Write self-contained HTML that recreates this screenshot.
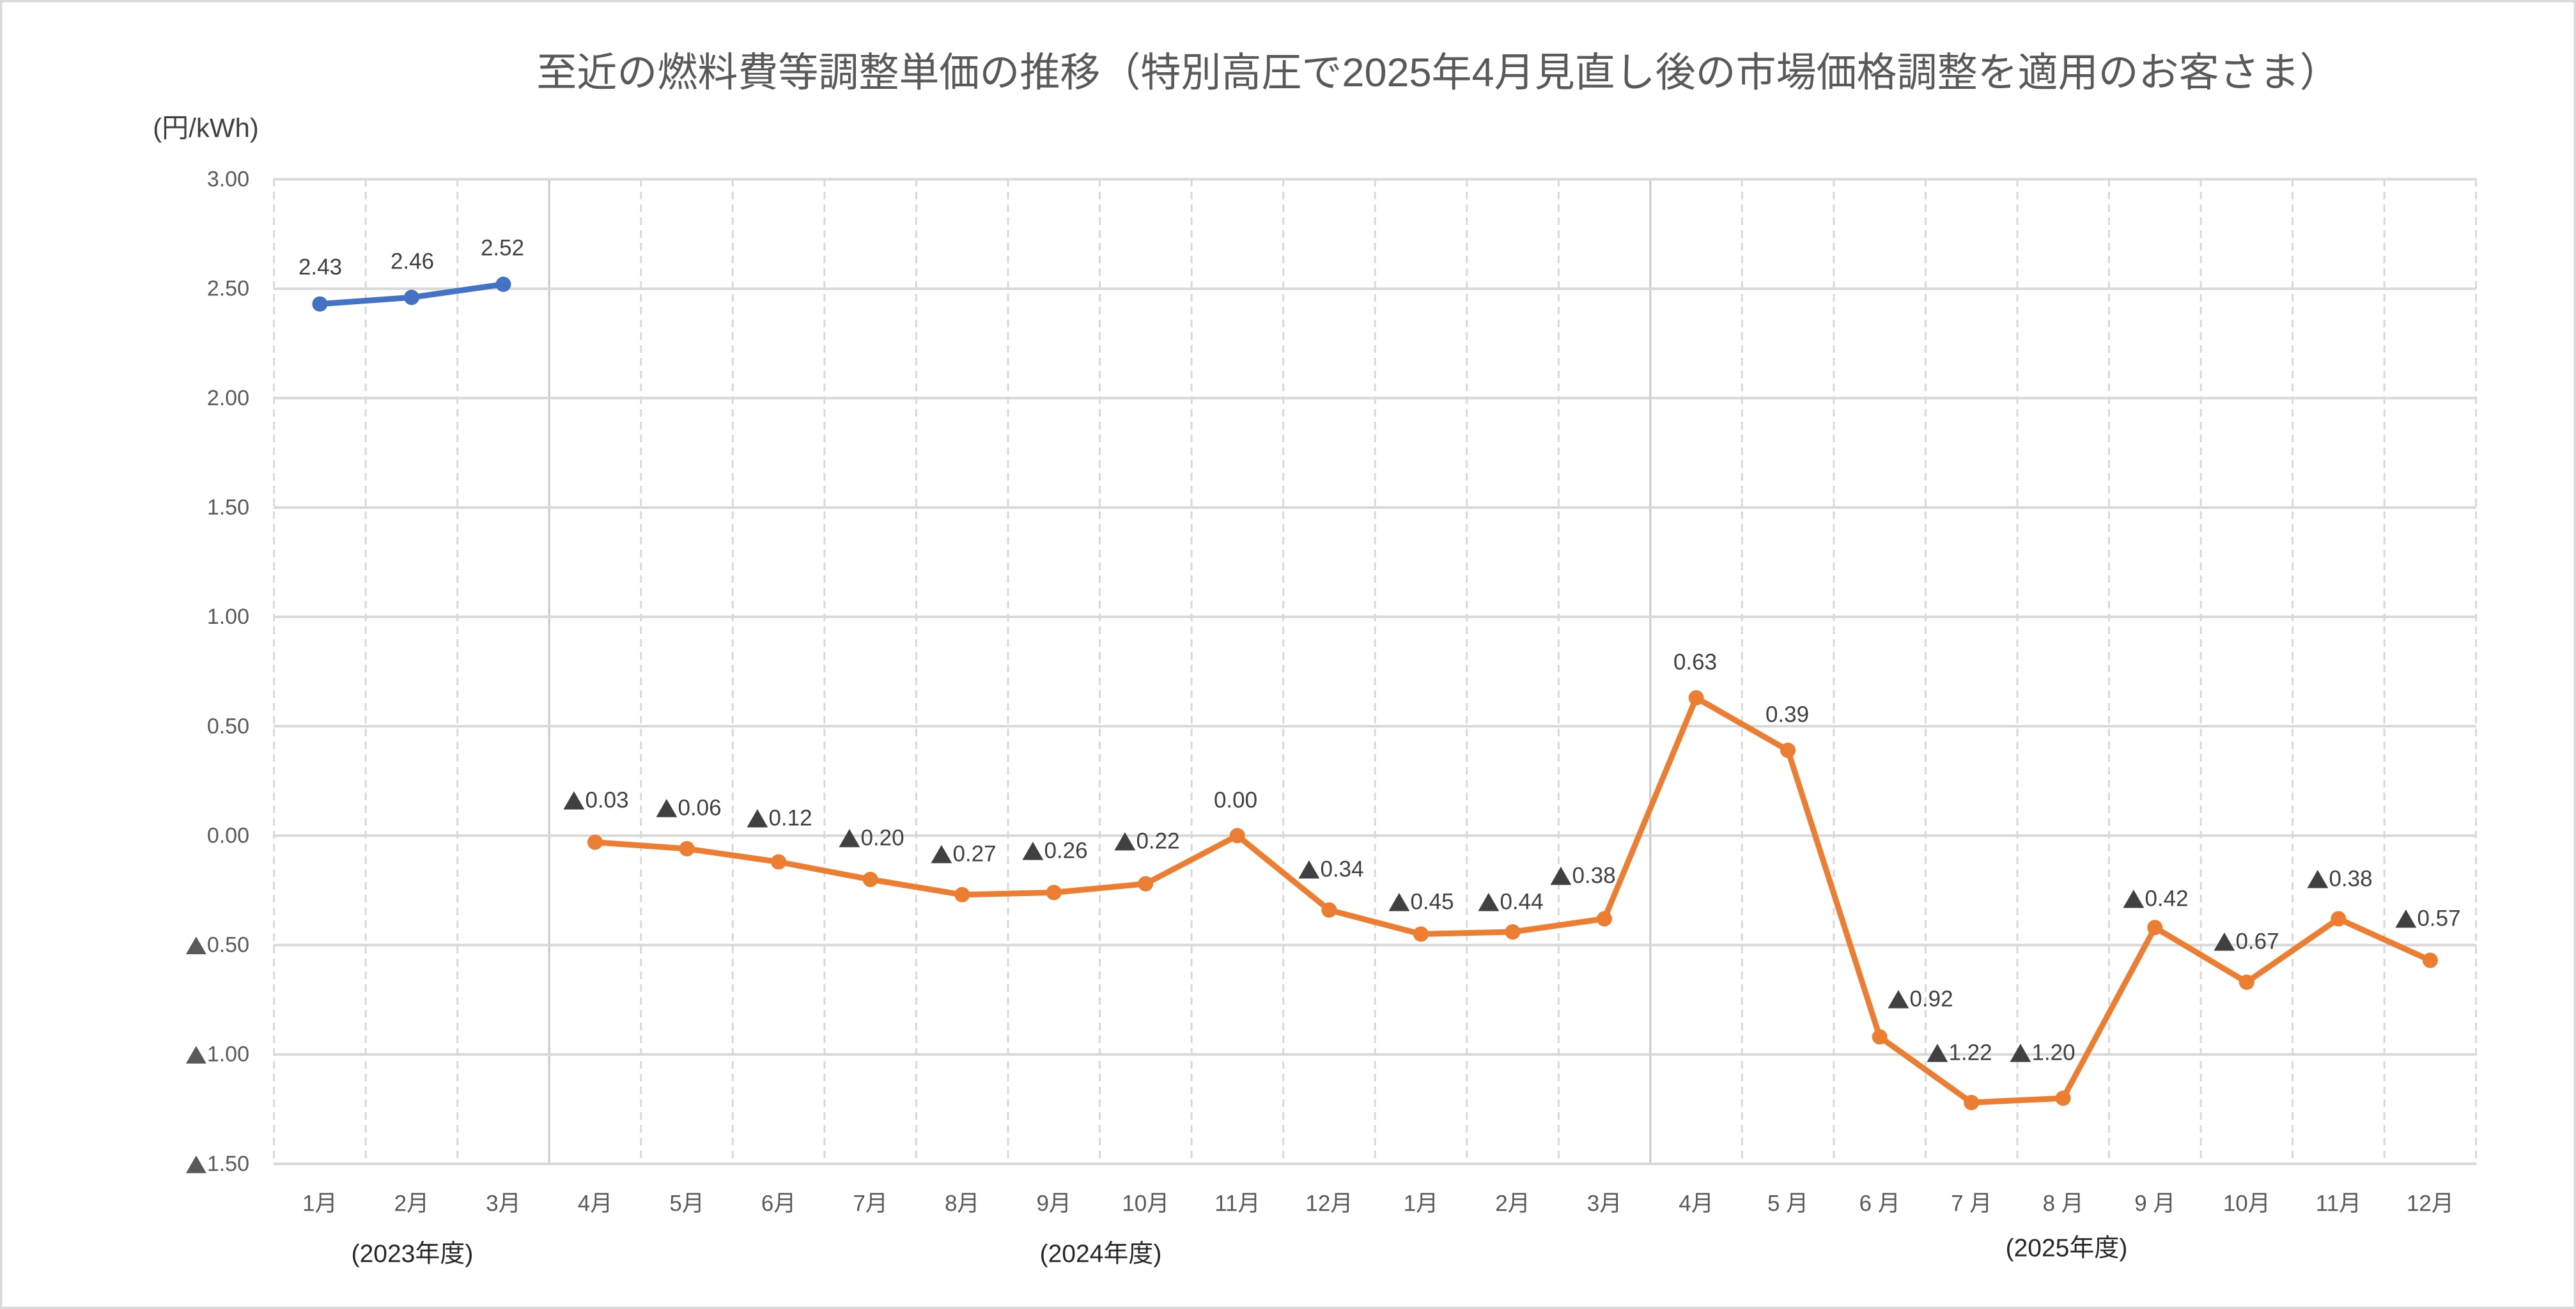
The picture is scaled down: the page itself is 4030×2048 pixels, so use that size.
<!DOCTYPE html>
<html><head><meta charset="utf-8"><style>
html,body{margin:0;padding:0;background:#fff}
svg{display:block}
text{font-family:"Liberation Sans","Noto Sans CJK JP",sans-serif}
.t{font-family:"Noto Sans CJK JP",sans-serif}
</style></head><body>
<svg width="4030" height="2048" viewBox="0 0 4030 2048" xmlns="http://www.w3.org/2000/svg">
<rect x="1.5" y="1.5" width="4027" height="2045" fill="#fff" stroke="#d9d9d9" stroke-width="4"/>
<text x="2250" y="135" font-size="63" fill="#595959" text-anchor="middle">至近の燃料費等調整単価の推移（特別高圧で2025年4月見直し後の市場価格調整を適用のお客さま）</text>
<text x="322" y="200" font-size="42" fill="#404040" text-anchor="middle" dominant-baseline="central">(円/kWh)</text>
<g stroke="#d9d9d9" stroke-width="3" stroke-dasharray="12,8">
<line x1="428.6" y1="280" x2="428.6" y2="1821"/>
<line x1="572.1" y1="280" x2="572.1" y2="1821"/>
<line x1="715.7" y1="280" x2="715.7" y2="1821"/>
<line x1="1002.8" y1="280" x2="1002.8" y2="1821"/>
<line x1="1146.3" y1="280" x2="1146.3" y2="1821"/>
<line x1="1289.9" y1="280" x2="1289.9" y2="1821"/>
<line x1="1433.4" y1="280" x2="1433.4" y2="1821"/>
<line x1="1577.0" y1="280" x2="1577.0" y2="1821"/>
<line x1="1720.5" y1="280" x2="1720.5" y2="1821"/>
<line x1="1864.1" y1="280" x2="1864.1" y2="1821"/>
<line x1="2007.6" y1="280" x2="2007.6" y2="1821"/>
<line x1="2151.2" y1="280" x2="2151.2" y2="1821"/>
<line x1="2294.7" y1="280" x2="2294.7" y2="1821"/>
<line x1="2438.3" y1="280" x2="2438.3" y2="1821"/>
<line x1="2725.3" y1="280" x2="2725.3" y2="1821"/>
<line x1="2868.9" y1="280" x2="2868.9" y2="1821"/>
<line x1="3012.4" y1="280" x2="3012.4" y2="1821"/>
<line x1="3156.0" y1="280" x2="3156.0" y2="1821"/>
<line x1="3299.5" y1="280" x2="3299.5" y2="1821"/>
<line x1="3443.1" y1="280" x2="3443.1" y2="1821"/>
<line x1="3586.6" y1="280" x2="3586.6" y2="1821"/>
<line x1="3730.2" y1="280" x2="3730.2" y2="1821"/>
<line x1="3873.6" y1="280" x2="3873.6" y2="1821"/>
</g>
<g stroke="#c8c8c8" stroke-width="3">
<line x1="859.2" y1="280" x2="859.2" y2="1821"/>
<line x1="2581.8" y1="280" x2="2581.8" y2="1821"/>
</g>
<g stroke="#d9d9d9" stroke-width="4">
<line x1="428" y1="280.5" x2="3874" y2="280.5"/>
<line x1="428" y1="451.7" x2="3874" y2="451.7"/>
<line x1="428" y1="622.8" x2="3874" y2="622.8"/>
<line x1="428" y1="794" x2="3874" y2="794"/>
<line x1="428" y1="965" x2="3874" y2="965"/>
<line x1="428" y1="1136.3" x2="3874" y2="1136.3"/>
<line x1="428" y1="1307.4" x2="3874" y2="1307.4"/>
<line x1="428" y1="1478.6" x2="3874" y2="1478.6"/>
<line x1="428" y1="1649.7" x2="3874" y2="1649.7"/>
<line x1="428" y1="1820.9" x2="3874" y2="1820.9"/>
</g>
<g font-size="34" fill="#595959" text-anchor="end" dominant-baseline="central">
<text x="390" y="280.5">3.00</text>
<text x="390" y="451.7">2.50</text>
<text x="390" y="622.8">2.00</text>
<text x="390" y="794">1.50</text>
<text x="390" y="965">1.00</text>
<text x="390" y="1136.3">0.50</text>
<text x="390" y="1307.4">0.00</text>
<text x="390" y="1478.6"><tspan class="t">▲</tspan>0.50</text>
<text x="390" y="1649.7"><tspan class="t">▲</tspan>1.00</text>
<text x="390" y="1820.9"><tspan class="t">▲</tspan>1.50</text>
</g>
<g font-size="35" fill="#595959" text-anchor="middle" dominant-baseline="central">
<text x="500.4" y="1883">1月</text><text x="643.9" y="1883">2月</text><text x="787.5" y="1883">3月</text>
<text x="931.0" y="1883">4月</text><text x="1074.6" y="1883">5月</text><text x="1218.1" y="1883">6月</text>
<text x="1361.7" y="1883">7月</text><text x="1505.2" y="1883">8月</text><text x="1648.7" y="1883">9月</text>
<text x="1792.3" y="1883">10月</text><text x="1935.8" y="1883">11月</text><text x="2079.4" y="1883">12月</text>
<text x="2222.9" y="1883">1月</text><text x="2366.5" y="1883">2月</text><text x="2510.0" y="1883">3月</text>
<text x="2653.6" y="1883">4月</text><text x="2797.1" y="1883">5 月</text><text x="2940.7" y="1883">6 月</text>
<text x="3084.2" y="1883">7 月</text><text x="3227.7" y="1883">8 月</text><text x="3371.3" y="1883">9 月</text>
<text x="3514.8" y="1883">10月</text><text x="3658.4" y="1883">11月</text><text x="3801.9" y="1883">12月</text>
</g>
<g font-size="39" fill="#262626" text-anchor="middle" dominant-baseline="central">
<text x="645" y="1962">(2023年度)</text>
<text x="1722" y="1962">(2024年度)</text>
<text x="3233" y="1953">(2025年度)</text>
</g>
<polyline fill="none" stroke="#4472C4" stroke-width="9" stroke-linejoin="round" points="500.4,475.6 643.9,465.3 787.5,444.8"/>
<g fill="#4472C4">
<circle cx="500.4" cy="475.6" r="12"/><circle cx="643.9" cy="465.3" r="12"/><circle cx="787.5" cy="444.8" r="12"/>
</g>
<polyline fill="none" stroke="#ED7D31" stroke-width="9" stroke-linejoin="round" points="931.0,1317.7 1074.6,1327.9 1218.1,1348.5 1361.7,1375.9 1505.2,1399.8 1648.7,1396.4 1792.3,1382.7 1935.8,1307.4 2079.4,1423.8 2222.9,1461.4 2366.5,1458.0 2510.0,1437.5 2653.6,1091.8 2797.1,1173.9 2940.7,1622.3 3084.2,1725.0 3227.7,1718.2 3371.3,1451.2 3514.8,1536.7 3658.4,1437.5 3801.9,1502.5"/>
<g fill="#ED7D31">
<circle cx="931.0" cy="1317.7" r="12"/><circle cx="1074.6" cy="1327.9" r="12"/><circle cx="1218.1" cy="1348.5" r="12"/>
<circle cx="1361.7" cy="1375.9" r="12"/><circle cx="1505.2" cy="1399.8" r="12"/><circle cx="1648.7" cy="1396.4" r="12"/>
<circle cx="1792.3" cy="1382.7" r="12"/><circle cx="1935.8" cy="1307.4" r="12"/><circle cx="2079.4" cy="1423.8" r="12"/>
<circle cx="2222.9" cy="1461.4" r="12"/><circle cx="2366.5" cy="1458.0" r="12"/><circle cx="2510.0" cy="1437.5" r="12"/>
<circle cx="2653.6" cy="1091.8" r="12"/><circle cx="2797.1" cy="1173.9" r="12"/><circle cx="2940.7" cy="1622.3" r="12"/>
<circle cx="3084.2" cy="1725.0" r="12"/><circle cx="3227.7" cy="1718.2" r="12"/><circle cx="3371.3" cy="1451.2" r="12"/>
<circle cx="3514.8" cy="1536.7" r="12"/><circle cx="3658.4" cy="1437.5" r="12"/><circle cx="3801.9" cy="1502.5" r="12"/>
</g>
<g font-size="35" fill="#404040" text-anchor="middle" dominant-baseline="central">
<text x="501" y="418">2.43</text><text x="645" y="409">2.46</text><text x="786" y="388">2.52</text>
<text x="932" y="1252"><tspan class="t">▲</tspan>0.03</text><text x="1077" y="1264"><tspan class="t">▲</tspan>0.06</text><text x="1219" y="1280"><tspan class="t">▲</tspan>0.12</text>
<text x="1363" y="1311"><tspan class="t">▲</tspan>0.20</text><text x="1507" y="1336"><tspan class="t">▲</tspan>0.27</text><text x="1650" y="1331"><tspan class="t">▲</tspan>0.26</text>
<text x="1794" y="1316"><tspan class="t">▲</tspan>0.22</text><text x="1933" y="1252">0.00</text><text x="2082" y="1360"><tspan class="t">▲</tspan>0.34</text>
<text x="2223" y="1411"><tspan class="t">▲</tspan>0.45</text><text x="2363" y="1411"><tspan class="t">▲</tspan>0.44</text><text x="2476" y="1370"><tspan class="t">▲</tspan>0.38</text>
<text x="2652" y="1036">0.63</text><text x="2796" y="1118">0.39</text><text x="3004" y="1563"><tspan class="t">▲</tspan>0.92</text>
<text x="3065" y="1647"><tspan class="t">▲</tspan>1.22</text><text x="3195" y="1647"><tspan class="t">▲</tspan>1.20</text><text x="3372" y="1406"><tspan class="t">▲</tspan>0.42</text>
<text x="3514" y="1473"><tspan class="t">▲</tspan>0.67</text><text x="3660" y="1375"><tspan class="t">▲</tspan>0.38</text><text x="3798" y="1437"><tspan class="t">▲</tspan>0.57</text>
</g>
</svg>
</body></html>
